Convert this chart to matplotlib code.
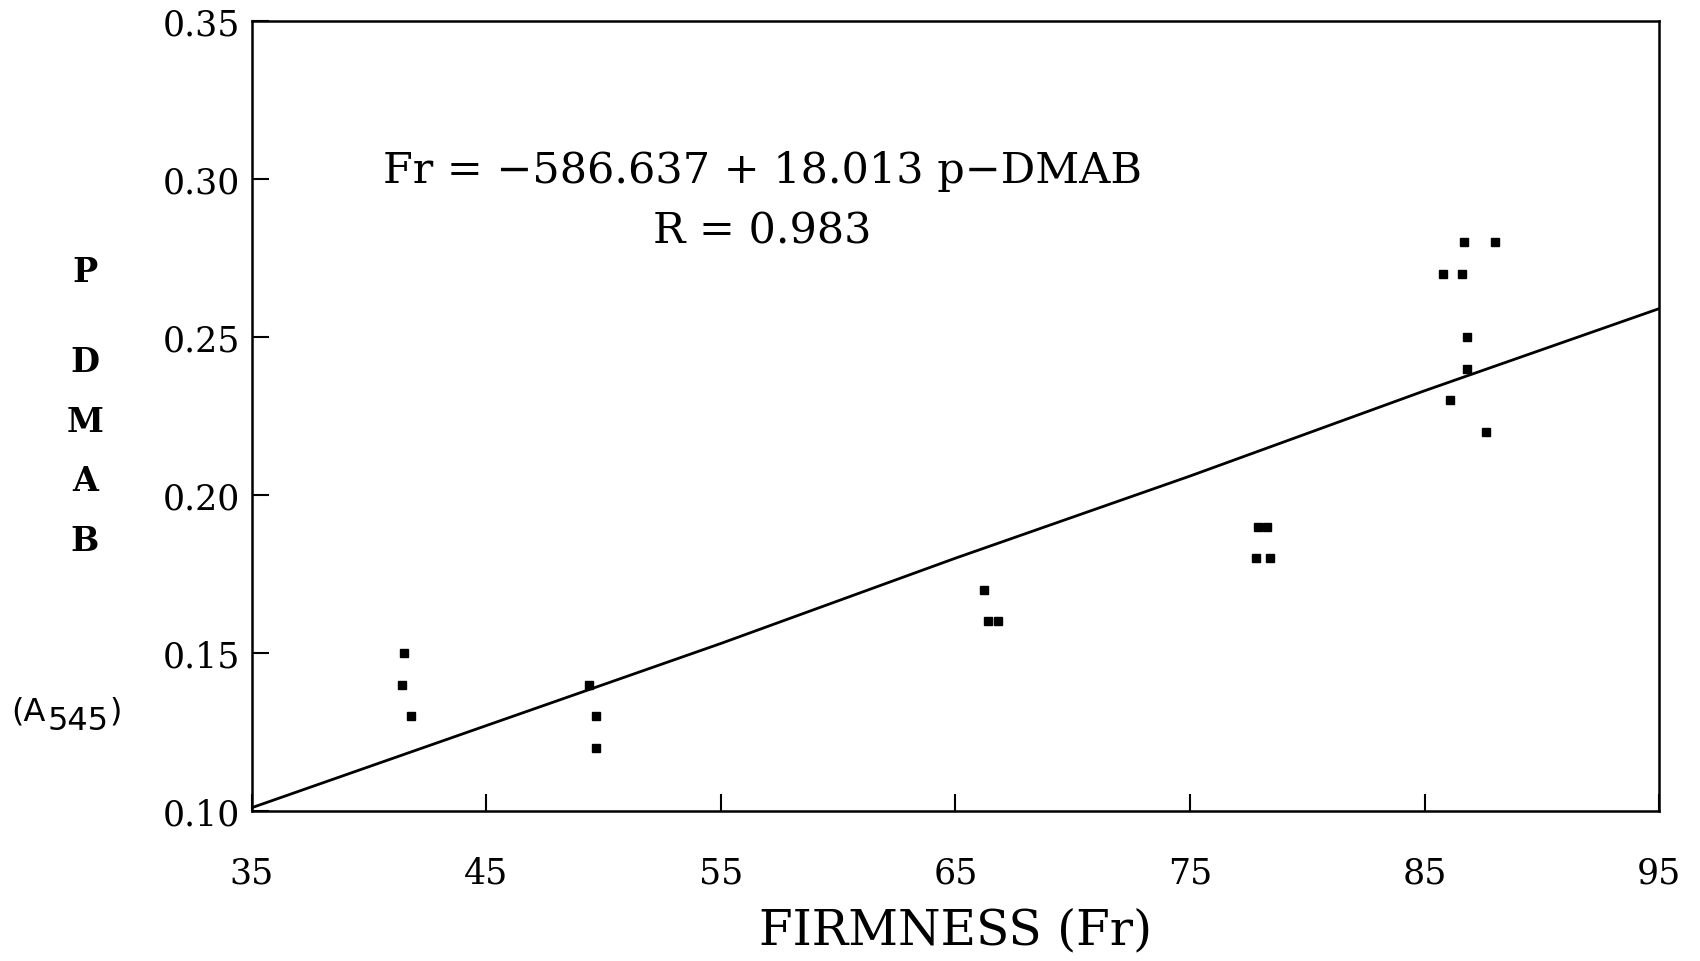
import matplotlib.pyplot as plt
import numpy as np

# valori
firmness = [41.5, 41.4, 41.8,
            49.4, 49.7, 49.7,
            66.2, 66.4, 66.8,
            77.9, 78.3, 77.8, 78.4,
            85.8, 86.6, 86.7, 88.0, 86.8, 86.8, 86.1, 87.6]
pdmab = [0.15, 0.14, 0.13,
         0.14, 0.13, 0.12,
         0.17, 0.16, 0.16,
         0.19, 0.19, 0.18, 0.18,
         0.27, 0.27, 0.28, 0.28, 0.25, 0.24, 0.23, 0.22]

# retta di regressione
fit_x = [35, 45, 55, 65, 75, 85, 95]
fit_y = [0.101, 0.127, 0.153, 0.180, 0.206, 0.233, 0.259]

x_ticks = [35, 45, 55, 65, 75, 85, 95]
y_ticks = [0.10, 0.15, 0.20, 0.25, 0.30, 0.35]

serif = 'DejaVu Serif'

fig = plt.figure(figsize=(17, 9.62), dpi=100)
ax = fig.add_axes([0.148, 0.156, 0.828, 0.821])

ax.plot(fit_x, fit_y, color='black', linewidth=2.0)
ax.plot(firmness, pdmab, linestyle='none', marker='s', markersize=5.5,
        color='black')

ax.set_xlim(35, 95)
ax.set_ylim(0.10, 0.35)
ax.set_xticks(x_ticks)
ax.set_yticks(y_ticks)
ax.set_xticklabels([str(v) for v in x_ticks], fontfamily=serif, fontsize=25)
ax.set_yticklabels([f"{v:.2f}" for v in y_ticks], fontfamily=serif, fontsize=25)
ax.tick_params(axis='both', direction='in', length=12, width=1.5,
               top=False, right=False)
ax.tick_params(axis='x', pad=32)
ax.tick_params(axis='y', pad=8)
for sp in ax.spines.values():
    sp.set_linewidth(1.8)

ax.set_xlabel("FIRMNESS (Fr)", fontfamily=serif, fontsize=35, labelpad=12)

# equazione
ax.text(0.363, 0.811, "Fr = \u2212586.637 + 18.013 p\u2212DMAB", transform=ax.transAxes,
        ha='center', va='center', fontfamily=serif, fontsize=31)
ax.text(0.363, 0.735, "R = 0.983", transform=ax.transAxes,
        ha='center', va='center', fontfamily=serif, fontsize=31)

# etichetta asse y, lettere verticali
for lett, yp in zip("PDMAB", [273, 363, 423, 482, 542]):
    fig.text(85 / 1700, 1 - yp / 962, lett, ha='center', va='center',
             fontfamily=serif, fontsize=24, fontweight='bold')
# (A545) con pedice
fig.text(11 / 1700, 1 - 712 / 962, "(A", ha='left', va='center',
         fontfamily='DejaVu Sans', fontsize=23)
fig.text(47 / 1700, 1 - 722 / 962, "545", ha='left', va='center',
         fontfamily='DejaVu Sans', fontsize=23)
fig.text(109 / 1700, 1 - 712 / 962, ")", ha='left', va='center',
         fontfamily='DejaVu Sans', fontsize=23)

fig.savefig("out.png", dpi=100)
